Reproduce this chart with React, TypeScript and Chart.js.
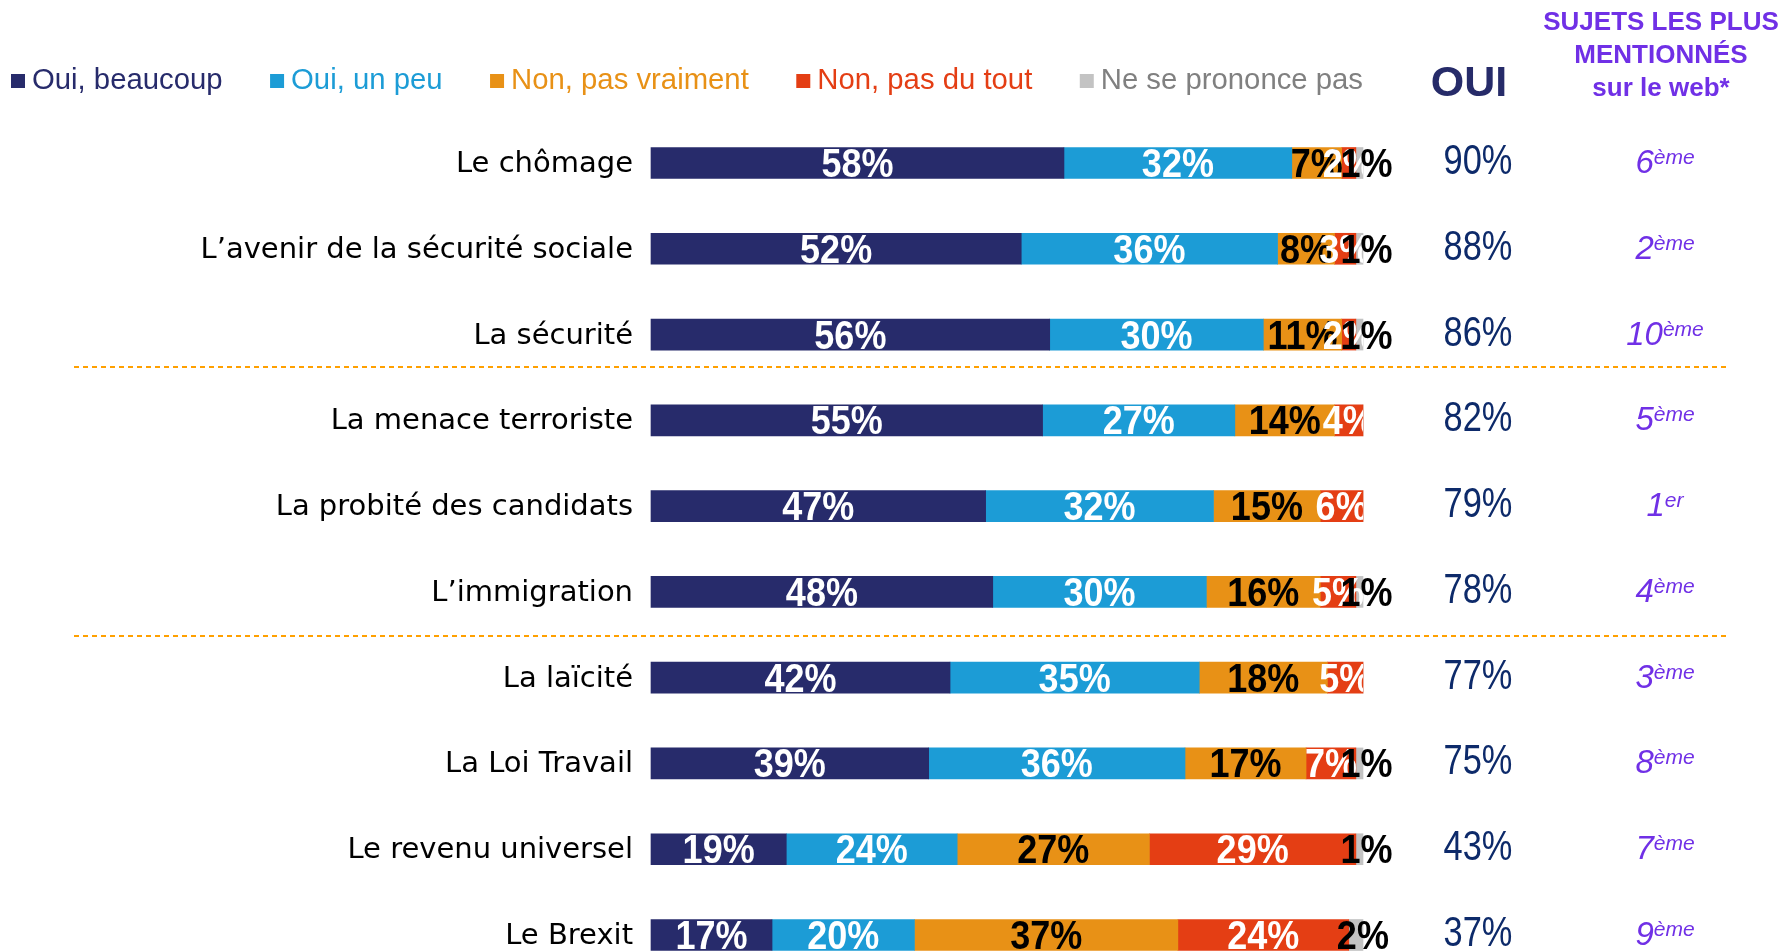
import React, { useEffect, useRef } from "react";
import { Chart, registerables } from "chart.js";

Chart.register(...registerables);

const categories = [
  "Le chômage",
  "L’avenir de la sécurité sociale",
  "La sécurité",
  "La menace terroriste",
  "La probité des candidats",
  "L’immigration",
  "La laïcité",
  "La Loi Travail",
  "Le revenu universel",
  "Le Brexit",
];
const seriesNames = ["Oui, beaucoup", "Oui, un peu", "Non, pas vraiment", "Non, pas du tout", "Ne se prononce pas"];
const ouiBeaucoup = [58, 52, 56, 55, 47, 48, 42, 39, 19, 17];
const ouiUnPeu = [32, 36, 30, 27, 32, 30, 35, 36, 24, 20];
const nonPasVraiment = [7, 8, 11, 14, 15, 16, 18, 17, 27, 37];
const nonPasDuTout = [2, 3, 2, 4, 6, 5, 5, 7, 29, 24];
const nsp = [1, 1, 1, 0, 0, 1, 0, 1, 1, 2];
const ouiTotal = [90, 88, 86, 82, 79, 78, 77, 75, 43, 37];
const rankNum = ["6", "2", "10", "5", "1", "4", "3", "8", "7", "9"];
const rankSuffix = ["ème", "ème", "ème", "ème", "er", "ème", "ème", "ème", "ème", "ème"];
const headerOui = "OUI";
const headerWeb = ["SUJETS LES PLUS", "MENTIONNÉS", "sur le web*"];
const separatorsAfter = [2.38, 5.52];

const barColors = ["#272B6B", "#1C9CD6", "#E89116", "#E43E14", "#C3C3C3"];
const legendTextColors = ["#272B6B", "#1C9CD6", "#E89116", "#E43E14", "#808080"];
const labelColors = ["#FFFFFF", "#FFFFFF", "#000000", "#FFFFFF", "#000000"];

const SANS = "'Liberation Sans', Arial, sans-serif";
const VERD = "'DejaVu Sans', Verdana, sans-serif";

function txt(ctx: CanvasRenderingContext2D, s: string, x: number, y: number, font: string, color: string, align: CanvasTextAlign, baseline: CanvasTextBaseline, sx = 1) {
  ctx.save();
  ctx.font = font;
  ctx.fillStyle = color;
  ctx.textAlign = align;
  ctx.textBaseline = baseline;
  ctx.translate(x, y);
  ctx.scale(sx, 1);
  ctx.fillText(s, 0, 0);
  ctx.restore();
}

const overlay = {
  id: "overlay",
  afterDatasetsDraw(chart: any) {
    const ctx: CanvasRenderingContext2D = chart.ctx;
    const area = chart.chartArea;
    chart.data.datasets.forEach((ds: any, di: number) => {
      const meta = chart.getDatasetMeta(di);
      meta.data.forEach((el: any, i: number) => {
        const v = ds.data[i];
        if (!v) return;
        const isGray = di === 4;
        let cx = (el.x + el.base) / 2;
        if (isGray) cx += 7;
        ctx.save();
        if (!isGray) {
          ctx.beginPath();
          ctx.rect(area.left, 0, area.right - area.left, chart.height);
          ctx.clip();
        }
        txt(ctx, v + "%", cx, el.y + 14, "bold 40px " + SANS, labelColors[di], "center", "alphabetic", 0.9);
        ctx.restore();
      });
    });
  },
  afterDraw(chart: any) {
    const ctx: CanvasRenderingContext2D = chart.ctx;
    const yScale = chart.scales.y;
    // legend
    let lx = 11;
    const ly = 81;
    seriesNames.forEach((name, i) => {
      ctx.fillStyle = barColors[i];
      ctx.fillRect(lx, ly - 7, 14, 14);
      ctx.font = "29.3px " + SANS;
      const w = ctx.measureText(name).width;
      txt(ctx, name, lx + 21, ly, "29.3px " + SANS, legendTextColors[i], "left", "middle");
      lx += 21 + w + 47.5;
    });
    // headers
    txt(ctx, headerOui, 1469, 96, "bold 43px " + SANS, "#262B69", "center", "alphabetic");
    headerWeb.forEach((s, i) => {
      txt(ctx, s, 1661, 30 + i * 33, "bold 26px " + SANS, "#7030E6", "center", "alphabetic", 1);
    });
    // category labels, oui totals, ranks
    categories.forEach((c, i) => {
      const y = yScale.getPixelForValue(i);
      txt(ctx, c, 633, y + 9, "29px " + VERD, "#000000", "right", "alphabetic");
      txt(ctx, ouiTotal[i] + "%", 1478, y + 11, "43px " + SANS, "#0D2A6A", "center", "alphabetic", 0.8);
      ctx.font = "italic 33px " + SANS;
      const wn = ctx.measureText(rankNum[i]).width;
      ctx.font = "italic 21px " + SANS;
      const ws = ctx.measureText(rankSuffix[i]).width;
      const x0 = 1665 - (wn + ws) / 2;
      txt(ctx, rankNum[i], x0, y + 10, "italic 33px " + SANS, "#7030E6", "left", "alphabetic");
      txt(ctx, rankSuffix[i], x0 + wn, y + 1, "italic 21px " + SANS, "#7030E6", "left", "alphabetic");
    });
    // separators
    ctx.save();
    ctx.strokeStyle = "#FFA000";
    ctx.lineWidth = 2;
    ctx.setLineDash([5, 4]);
    separatorsAfter.forEach((v) => {
      const y = Math.round(yScale.getPixelForValue(v));
      ctx.beginPath();
      ctx.moveTo(74, y);
      ctx.lineTo(1730, y);
      ctx.stroke();
    });
    ctx.restore();
  },
};

export default function App() {
  const ref = useRef<HTMLCanvasElement>(null);
  useEffect(() => {
    if (!ref.current) return;
    const values = [ouiBeaucoup, ouiUnPeu, nonPasVraiment, nonPasDuTout, nsp];
    const chart = new Chart(ref.current, {
      type: "bar",
      data: {
        labels: categories,
        datasets: values.map((d, i) => ({
          label: seriesNames[i],
          data: d,
          backgroundColor: barColors[i],
          borderWidth: 0,
          barThickness: 31,
          clip: false,
        })),
      },
      options: {
        indexAxis: "y",
        animation: false,
        responsive: true,
        maintainAspectRatio: false,
        layout: { padding: { left: 651, right: 425, top: 163, bottom: 17 } },
        scales: {
          x: { type: "linear", min: 0, max: 100, stacked: true, display: false },
          y: { type: "category", stacked: true, display: false, offset: false },
        },
        plugins: { legend: { display: false }, tooltip: { enabled: false } },
      },
      plugins: [overlay],
    } as any);
    return () => chart.destroy();
  }, []);
  return (
    <div style={{ position: "absolute", left: 0, top: 0, width: 1788, height: 952, background: "#fff" }}>
      <canvas ref={ref} />
    </div>
  );
}
